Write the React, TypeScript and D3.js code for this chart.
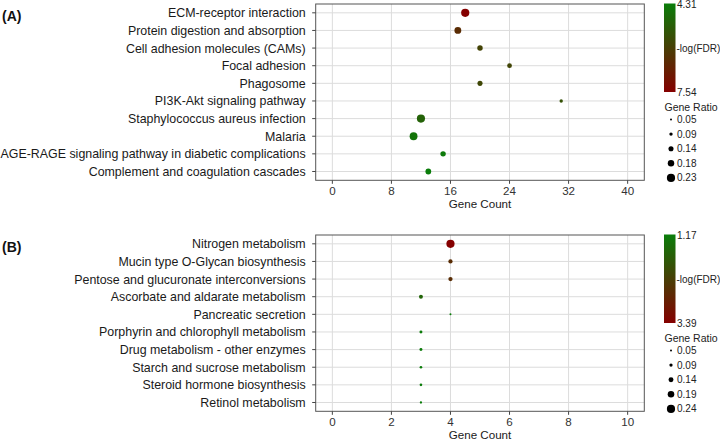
import React from "react";
import * as d3 from "d3";

const pathwaysA = [
  "ECM-receptor interaction",
  "Protein digestion and absorption",
  "Cell adhesion molecules (CAMs)",
  "Focal adhesion",
  "Phagosome",
  "PI3K-Akt signaling pathway",
  "Staphylococcus aureus infection",
  "Malaria",
  "AGE-RAGE signaling pathway in diabetic complications",
  "Complement and coagulation cascades",
];
const countsA = [18, 17, 20, 24, 20, 31, 12, 11, 15, 13];
const ratioA = [0.23, 0.19, 0.15, 0.13, 0.14, 0.09, 0.23, 0.22, 0.15, 0.16];
const logFdrA = [7.54, 6.4, 5.8, 5.75, 5.7, 5.45, 5.0, 4.55, 4.4, 4.31];
const xTicksA = [0, 8, 16, 24, 32, 40];
const fdrRangeA = [4.31, 7.54];
const ratioLegendA = [0.05, 0.09, 0.14, 0.18, 0.23];

const pathwaysB = [
  "Nitrogen metabolism",
  "Mucin type O-Glycan biosynthesis",
  "Pentose and glucuronate interconversions",
  "Ascorbate and aldarate metabolism",
  "Pancreatic secretion",
  "Porphyrin and chlorophyll metabolism",
  "Drug metabolism - other enzymes",
  "Starch and sucrose metabolism",
  "Steroid hormone biosynthesis",
  "Retinol metabolism",
];
const countsB = [4, 4, 4, 3, 4, 3, 3, 3, 3, 3];
const ratioB = [0.24, 0.12, 0.12, 0.11, 0.05, 0.08, 0.08, 0.07, 0.07, 0.06];
const logFdrB = [3.39, 2.6, 2.6, 1.6, 1.17, 1.2, 1.2, 1.18, 1.18, 1.17];
const xTicksB = [0, 2, 4, 6, 8, 10];
const fdrRangeB = [1.17, 3.39];
const ratioLegendB = [0.05, 0.09, 0.14, 0.19, 0.24];

const FONT = "'Liberation Sans', Arial, Helvetica, sans-serif";
const GREEN = "#0a7d0a";
const RED = "#850000";

type PanelProps = {
  id: string;
  label: string;
  top: number;
  pathways: string[];
  counts: number[];
  ratios: number[];
  logFdr: number[];
  xTicks: number[];
  fdrRange: number[];
  ratioLegend: number[];
};

function Panel(p: PanelProps) {
  const left = 315.7;
  const right = 644.3;
  const plotTop = p.top;
  const plotBottom = p.top + 176.3;
  const maxTick = p.xTicks[p.xTicks.length - 1];
  const pad = maxTick * 0.0564;
  const x = d3.scaleLinear().domain([-pad, maxTick + pad]).range([left, right]);
  const y = d3.scalePoint<string>().domain(p.pathways).range([plotTop, plotBottom]).padding(0.5);
  const color = d3
    .scaleLinear<string>()
    .domain(p.fdrRange)
    .range([GREEN, RED])
    .interpolate(d3.interpolateRgb);
  const size = d3
    .scaleLinear()
    .domain([p.ratioLegend[0], p.ratioLegend[p.ratioLegend.length - 1]])
    .range([1, 4.1]);

  const barX = 664;
  const barW = 11.5;
  const barTop = plotTop - 0.5;
  const barBottom = barTop + 88.5;
  const gid = "grad" + p.id;
  const legY0 = barBottom + 15.5;

  return (
    <g>
      <text x={2} y={plotTop + 16.5} fontFamily={FONT} fontWeight="bold" fontSize={14} fill="#111">
        {p.label}
      </text>
      <rect x={left} y={plotTop} width={right - left} height={plotBottom - plotTop} fill="#fff" />
      {p.xTicks.map((t) => (
        <line key={"gx" + t} x1={x(t)} x2={x(t)} y1={plotTop} y2={plotBottom} stroke="#dcdcdc" strokeWidth={1} />
      ))}
      {p.pathways.map((c) => (
        <line key={"gy" + c} x1={left} x2={right} y1={y(c)} y2={y(c)} stroke="#dcdcdc" strokeWidth={1} />
      ))}
      <rect x={left} y={plotTop} width={right - left} height={plotBottom - plotTop} fill="none" stroke="#555" strokeWidth={1} />
      {p.pathways.map((c) => (
        <g key={"yl" + c}>
          <line x1={left - 3.5} x2={left} y1={y(c)} y2={y(c)} stroke="#444" />
          <text x={left - 10} y={y(c)} dy="0.36em" textAnchor="end" fontFamily={FONT} fontSize={12.4} fill="#1a1a1a">
            {c}
          </text>
        </g>
      ))}
      {p.xTicks.map((t) => (
        <g key={"xl" + t}>
          <line x1={x(t)} x2={x(t)} y1={plotBottom} y2={plotBottom + 3.5} stroke="#444" />
          <text x={x(t)} y={plotBottom + 14.8} textAnchor="middle" fontFamily={FONT} fontSize={11.6} fill="#333">
            {t}
          </text>
        </g>
      ))}
      <text x={(left + right) / 2} y={plotBottom + 28} textAnchor="middle" fontFamily={FONT} fontSize={11.6} fill="#1a1a1a">
        Gene Count
      </text>
      {p.pathways.map((c, i) => (
        <circle key={"pt" + c} cx={x(p.counts[i])} cy={y(c)} r={size(p.ratios[i])} fill={color(p.logFdr[i])} />
      ))}

      <defs>
        <linearGradient id={gid} x1="0" y1="0" x2="0" y2="1">
          <stop offset="0%" stopColor={GREEN} />
          <stop offset="100%" stopColor={RED} />
        </linearGradient>
      </defs>
      <rect x={barX} y={barTop} width={barW} height={barBottom - barTop} fill={`url(#${gid})`} />
      <text x={barX + barW + 1.5} y={barTop + 4.5} fontFamily={FONT} fontSize={10} fill="#222">
        {p.fdrRange[0].toFixed(2)}
      </text>
      <text x={barX + barW + 1.5} y={barBottom + 4} fontFamily={FONT} fontSize={10} fill="#222">
        {p.fdrRange[1].toFixed(2)}
      </text>
      <text x={barX + barW + 1} y={(barTop + barBottom) / 2 + 4.5} fontFamily={FONT} fontSize={10} fill="#222">
        -log(FDR)
      </text>
      <text x={barX + 0.5} y={legY0 + 3.5} fontFamily={FONT} fontSize={10.5} fill="#222">
        Gene Ratio
      </text>
      {p.ratioLegend.map((r, i) => (
        <g key={"rl" + r}>
          <circle cx={671} cy={legY0 + 12 + i * 14.6} r={size(r)} fill="#000" />
          <text x={677} y={legY0 + 12 + i * 14.6 + 3.5} fontFamily={FONT} fontSize={10} fill="#222">
            {r.toFixed(2)}
          </text>
        </g>
      ))}
    </g>
  );
}

export default function App() {
  return (
    <svg
      width={720}
      height={442}
      style={{ position: "absolute", left: 0, top: 0, background: "#fff" }}
    >
      <rect width={720} height={442} fill="#fff" />
      <Panel
        id="A"
        label="(A)"
        top={4}
        pathways={pathwaysA}
        counts={countsA}
        ratios={ratioA}
        logFdr={logFdrA}
        xTicks={xTicksA}
        fdrRange={fdrRangeA}
        ratioLegend={ratioLegendA}
      />
      <Panel
        id="B"
        label="(B)"
        top={235}
        pathways={pathwaysB}
        counts={countsB}
        ratios={ratioB}
        logFdr={logFdrB}
        xTicks={xTicksB}
        fdrRange={fdrRangeB}
        ratioLegend={ratioLegendB}
      />
    </svg>
  );
}
